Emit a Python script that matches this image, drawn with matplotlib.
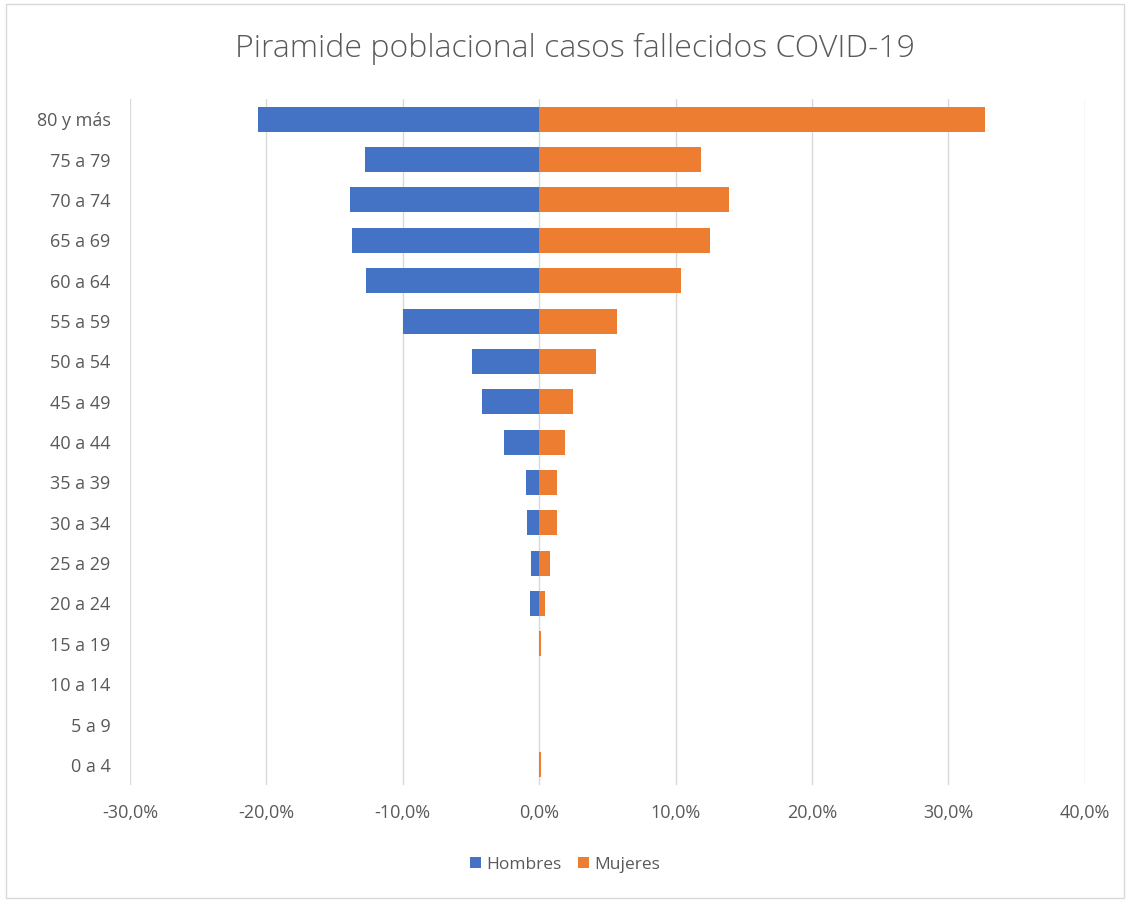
import matplotlib
matplotlib.use("Agg")
import matplotlib.pyplot as plt
from matplotlib.patches import Rectangle
import numpy as np

categories = ["80 y más", "75 a 79", "70 a 74", "65 a 69", "60 a 64", "55 a 59",
              "50 a 54", "45 a 49", "40 a 44", "35 a 39", "30 a 34", "25 a 29",
              "20 a 24", "15 a 19", "10 a 14", "5 a 9", "0 a 4"]
hombres = [-20.6, -12.8, -13.9, -13.7, -12.7, -10.0, -4.9, -4.2, -2.6, -1.0, -0.9,
           -0.6, -0.7, 0.0, 0.0, 0.0, 0.0]
mujeres = [32.7, 11.9, 13.9, 12.5, 10.4, 5.7, 4.2, 2.5, 1.9, 1.3, 1.3,
           0.8, 0.4, 0.15, 0.0, 0.0, 0.1]
xticks = [-30, -20, -10, 0, 10, 20, 30, 40]

plt.rcParams['font.family'] = ['Open Sans', 'DejaVu Sans']

fig = plt.figure(figsize=(11.3, 9.01), dpi=100)
ax = fig.add_axes([0.115, 0.1287, 0.845, 0.7613])

y = np.arange(len(categories))
ax.barh(y, hombres, height=0.62, color="#4472C4", label="Hombres", zorder=3)
ax.barh(y, mujeres, height=0.62, color="#ED7D31", label="Mujeres", zorder=3)

ax.set_xlim(-30, 40)
ax.set_ylim(len(categories) - 0.5, -0.5)
ax.set_xticks(xticks)
ax.set_xticklabels([f"{v:.1f}%".replace(".", ",") for v in xticks])
ax.set_yticks(y)
ax.set_yticklabels(categories)
ax.tick_params(axis='both', length=0, colors="#595959", labelsize=13)
ax.tick_params(axis='x', pad=14)
ax.tick_params(axis='y', pad=14)
for s in ax.spines.values():
    s.set_visible(False)
ax.grid(axis='x', color="#D9D9D9", linewidth=1, zorder=0)

fig.text(0.509, 0.946, "Piramide poblacional casos fallecidos COVID-19",
         ha='center', va='center', fontsize=23, color="#595959", fontweight='light')

leg = fig.legend(loc='center', bbox_to_anchor=(0.5, 0.04), ncol=2, frameon=False,
                 fontsize=12.5, handlelength=0.6, handleheight=0.6, handletextpad=0.3,
                 columnspacing=1.0)
for t in leg.get_texts():
    t.set_color("#595959")

fig.patches.append(Rectangle((0.005, 0.003), 0.99, 0.993, transform=fig.transFigure,
                             fill=False, edgecolor="#D9D9D9", linewidth=1))

fig.savefig("out.png", dpi=100)
